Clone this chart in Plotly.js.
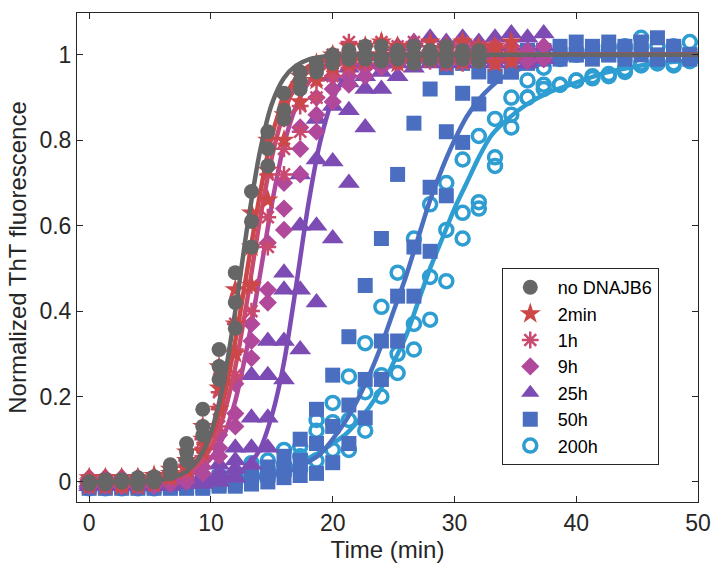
<!DOCTYPE html>
<html>
<head>
<meta charset="utf-8">
<script src="https://cdn.plot.ly/plotly-3.0.1.min.js"></script>
<style>html,body{margin:0;padding:0;background:#fff;}#chart{width:712px;height:566px;}</style>
</head>
<body>
<div id="chart"></div>
<script>
// ---- data ----
const time = [0,1.33,2.67,4,5.33,6.67,8,9.33,10.67,12,13.33,14.67,16,17.33,18.67,20,21.33,22.67,24,25.33,26.67,28,29.33,30.67,32,33.33,34.67,36,37.33,38.67,40,41.33,42.67,44,45.33,46.67,48,49.33];
const seriesNames = ['no DNAJB6','2min','1h','9h','25h','50h','200h'];

const noDnajb6 = [
  [0,0.005,0.005,0.01,0.012,0.04,0.09,0.17,0.31,0.49,0.68,0.82,0.91,0.96,0.98,1.0,1.01,1.02,1.02,1.01,1.02,1.01,1.02,1.01,1.01],
  [0,0,0,0,0.005,0.03,0.07,0.13,0.27,0.42,0.61,0.78,0.87,0.94,0.97,0.99,1.0,1.0,0.99,1.0,1.0,0.99,1.0,1.0,0.99],
  [-0.005,-0.005,0,-0.005,0,0.02,0.05,0.11,0.24,0.36,0.55,0.74,0.85,0.92,0.96,0.98,0.99,0.99,0.985,0.99,0.98,0.99,0.985,0.99,0.985]
];
const twoMin = [
  [0.01,0.01,0.01,0.01,0.015,0.03,0.07,0.13,0.27,0.45,0.63,0.80,0.90,0.95,0.98,1.0,1.02,1.02,1.03,1.02,1.02,1.03,1.02,1.03,1.02,1.02,1.03],
  [0,0,0,0,0.005,0.02,0.05,0.10,0.22,0.37,0.55,0.73,0.86,0.93,0.96,0.98,0.99,1.0,1.0,1.01,1.0,1.0,1.01,1.0,1.0,1.01,1.0],
  [-0.01,-0.01,-0.01,-0.01,-0.005,0.01,0.03,0.07,0.17,0.30,0.46,0.66,0.80,0.89,0.94,0.97,0.98,0.985,0.99,0.98,0.985,0.99,0.98,0.985,0.99,0.98,0.985]
];
const oneHour = [
  [0,0.005,0,0.005,0.01,0.02,0.05,0.10,0.21,0.37,0.55,0.72,0.85,0.93,0.97,1.0,1.03,1.02,1.03,1.02,1.03,1.02,1.02,1.03,1.02,1.02,1.02],
  [0,0,-0.005,0,0.005,0.01,0.04,0.08,0.17,0.31,0.46,0.62,0.78,0.88,0.94,0.98,0.99,1.0,1.0,1.01,1.0,1.0,1.01,1.0,1.01,1.0,1.0],
  [-0.005,-0.005,-0.01,-0.005,0,0.01,0.02,0.06,0.13,0.25,0.40,0.55,0.72,0.82,0.90,0.95,0.97,0.98,0.99,0.985,0.99,0.985,0.99,0.98,0.99,0.985,0.99]
];
const nineHours = [
  [0.01,0.01,0.01,0.01,0.01,0.01,0.02,0.05,0.11,0.23,0.37,0.56,0.70,0.83,0.90,0.95,0.98,0.99,1.0,1.01,1.02,1.01,1.02,1.02,1.01,1.02,1.02,1.01,1.02],
  [0,0,0,0,0,0.005,0.01,0.035,0.08,0.16,0.33,0.45,0.64,0.78,0.86,0.92,0.95,0.97,0.98,0.99,1.0,0.99,1.0,1.0,0.99,1.0,1.0,1.0,0.99],
  [-0.01,-0.01,-0.01,-0.01,-0.01,-0.005,0,0.02,0.06,0.13,0.29,0.42,0.59,0.72,0.82,0.89,0.93,0.95,0.97,0.98,0.985,0.99,0.98,0.985,0.99,0.985,0.99,0.985,0.99]
];
const twentyFiveHours = [
  [0.01,0.01,0.01,0.01,0.01,0.01,0.01,0.015,0.04,0.08,0.25,0.33,0.49,0.72,0.85,0.95,0.97,0.98,1.0,1.02,1.03,1.04,1.03,1.04,1.03,1.04,1.05,1.04,1.05],
  [0,0,0,0,0,0,0,0.01,0.02,0.05,0.15,0.25,0.45,0.60,0.755,0.88,0.935,0.95,0.98,0.99,1.0,1.01,1.0,1.01,1.02,1.01,1.02,1.01,1.02],
  [-0.005,-0.005,-0.005,-0.005,-0.005,-0.005,0,0,0.01,0.03,0.08,0.15,0.33,0.45,0.60,0.75,0.87,0.92,0.96,0.98,0.99,1.0,0.99,1.0,0.99,1.0,0.99,1.0,0.99],
  [-0.01,-0.01,-0.01,-0.01,-0.01,-0.01,-0.005,-0.005,0,0.01,0.04,0.08,0.24,0.31,0.42,0.57,0.70,0.83,0.92,0.95,0.97,0.98,0.99,0.98,0.99,0.98,0.99,0.98,0.99]
];
const fiftyHours = [
  [0,0,0,0,0,0,0.005,0.005,0.01,0.01,0.02,0.035,0.06,0.10,0.17,0.25,0.34,0.46,0.57,0.72,0.84,0.92,0.97,0.98,0.99,1.0,1.0,1.01,1.01,1.02,1.03,1.02,1.03,1.02,1.03,1.04,1.02,1.0],
  [-0.01,-0.01,-0.01,-0.01,-0.01,-0.01,-0.01,-0.01,-0.005,0,0.01,0.015,0.03,0.05,0.09,0.13,0.18,0.24,0.33,0.435,0.55,0.69,0.82,0.91,0.96,0.95,0.96,1.01,1.01,1.0,1.0,1.01,1.0,1.0,1.01,1.0,1.0,1.0],
  [-0.015,-0.015,-0.015,-0.015,-0.015,-0.015,-0.015,-0.015,-0.01,-0.01,-0.005,0,0.01,0.015,0.02,0.045,0.09,0.15,0.24,0.33,0.435,0.54,0.67,0.795,0.885,0.95,0.96,0.98,0.99,0.99,1.0,0.99,1.0,0.99,1.0,0.99,1.0,0.99]
];
const twoHundredHours = [
  [0,0,0,0,0,0.005,0.01,0.01,0.015,0.02,0.044,0.05,0.075,0.083,0.145,0.185,0.247,0.325,0.41,0.49,0.57,0.65,0.70,0.755,0.81,0.85,0.90,0.94,0.97,0.99,1.0,1.01,1.02,1.02,1.04,1.02,1.02,1.03],
  [-0.01,-0.01,-0.01,-0.01,-0.01,-0.005,0,0,0.005,0.01,0.02,0.03,0.04,0.06,0.12,0.14,0.145,0.21,0.25,0.30,0.37,0.48,0.59,0.63,0.655,0.76,0.86,0.90,0.93,0.93,0.94,0.95,0.955,0.967,0.98,0.987,0.98,0.987],
  [-0.015,-0.015,-0.015,-0.015,-0.015,-0.01,-0.01,-0.005,0,0,0.005,0.01,0.02,0.03,0.05,0.075,0.075,0.12,0.20,0.255,0.31,0.38,0.47,0.57,0.64,0.74,0.83,0.90,0.92,0.93,0.94,0.945,0.95,0.96,0.975,0.98,0.975,0.985]
];

// fitted curves
const fitTime = [0,2,4,6,7,8,9,10,11,12,13,14,15,16,17,18,19,20,21,22,23,24,25,26,27,28,29,30,31,32,33,34,36,38,40,42,44,46,48,50];
const fitNoDnajb6 = [0,0.0002,0.001,0.005,0.011,0.025,0.055,0.116,0.228,0.40,0.60,0.77,0.885,0.946,0.975,0.989,0.995,0.998,0.999,1,1,1,1,1,1,1,1,1,1,1,1,1,1,1,1,1,1,1,1,1];
const fitTwoMin = [0,0.0004,0.0016,0.0067,0.0137,0.027,0.054,0.105,0.19,0.33,0.50,0.67,0.81,0.895,0.946,0.973,0.987,0.993,0.997,0.998,0.999,1,1,1,1,1,1,1,1,1,1,1,1,1,1,1,1,1,1,1];
const fitOneHour = [0,0.0003,0.001,0.005,0.010,0.021,0.041,0.081,0.153,0.269,0.43,0.61,0.76,0.865,0.93,0.965,0.983,0.991,0.996,0.998,0.999,1,1,1,1,1,1,1,1,1,1,1,1,1,1,1,1,1,1,1];
const fitNineHours = [0,0.0002,0.001,0.004,0.0074,0.015,0.029,0.056,0.105,0.19,0.32,0.48,0.65,0.79,0.88,0.935,0.966,0.983,0.992,0.996,0.998,0.999,1,1,1,1,1,1,1,1,1,1,1,1,1,1,1,1,1,1];
const fitTwentyFiveHours = [0,0,0,0.0002,0.0004,0.0008,0.0018,0.004,0.008,0.018,0.038,0.075,0.155,0.28,0.46,0.65,0.80,0.896,0.947,0.975,0.988,0.994,0.997,0.999,1,1,1,1,1,1,1,1,1,1,1,1,1,1,1,1];
const fitFiftyHours = [0.0001,0.0001,0.0003,0.0006,0.0009,0.0012,0.0018,0.0025,0.0035,0.005,0.0075,0.011,0.016,0.023,0.032,0.047,0.066,0.10,0.14,0.19,0.25,0.32,0.40,0.48,0.57,0.66,0.735,0.80,0.855,0.895,0.925,0.948,0.973,0.987,0.994,0.997,0.999,1,1,1];
const fitTwoHundredHours = [0.0001,0.0002,0.0005,0.001,0.0015,0.002,0.003,0.004,0.006,0.009,0.012,0.016,0.022,0.03,0.04,0.055,0.07,0.09,0.11,0.14,0.175,0.22,0.28,0.34,0.42,0.50,0.57,0.64,0.70,0.76,0.81,0.84,0.885,0.915,0.935,0.955,0.968,0.978,0.984,0.988];

const markerData = [noDnajb6, twoMin, oneHour, nineHours, twentyFiveHours, fiftyHours, twoHundredHours];
const fitData = [fitNoDnajb6, fitTwoMin, fitOneHour, fitNineHours, fitTwentyFiveHours, fitFiftyHours, fitTwoHundredHours];

// ---- styles ----
const colors = ['#666666','#cc4747','#c9496f','#b0489c','#7c4bb4','#4a6fc0','#2e9dd1'];
const symbols = ['circle','star','asterisk-open','diamond','triangle-up','square','circle-open'];
const sizes = [15,16,14,14,19,15,13];
const lineWidths = [0,0,2.5,0,0,0,3.5];

const traces = [];
for (let i = seriesNames.length - 1; i >= 0; i--) {
  const xs = [], ys = [];
  markerData[i].forEach(rep => {
    rep.forEach((v, k) => { if (v !== null) { xs.push(time[k]); ys.push(v); } });
  });
  traces.push({
    type: 'scatter', mode: 'markers', name: seriesNames[i], x: xs, y: ys,
    marker: { symbol: symbols[i], size: sizes[i], color: colors[i],
              line: { color: colors[i], width: lineWidths[i] } },
    showlegend: true
  });
  traces.push({
    type: 'scatter', mode: 'lines', x: fitTime, y: fitData[i],
    line: { color: colors[i], width: 4.5, shape: 'spline', smoothing: 0.8 },
    showlegend: false, hoverinfo: 'skip'
  });
}

const font = 'Liberation Sans, Arial, Helvetica, sans-serif';
const axisCol = '#262626';
const layout = {
  width: 712, height: 566,
  margin: { l: 77, r: 14, t: 13, b: 64 },
  paper_bgcolor: '#ffffff', plot_bgcolor: '#ffffff',
  font: { family: font, color: axisCol, size: 20 },
  xaxis: {
    range: [-1, 50], tickvals: [0,10,20,30,40,50], ticks: 'inside', ticklen: 6,
    tickcolor: axisCol, showline: true, linecolor: axisCol, linewidth: 1, mirror: 'ticks',
    showgrid: false, zeroline: false, tickfont: { size: 23, family: font, color: axisCol },
    title: { text: 'Time (min)', font: { size: 24, family: font, color: axisCol }, standoff: 5 }
  },
  yaxis: {
    range: [-0.047, 1.098], tickvals: [0,0.2,0.4,0.6,0.8,1], ticktext: ['0','0.2','0.4','0.6','0.8','1'],
    ticks: 'inside', ticklen: 6, tickcolor: axisCol, showline: true, linecolor: axisCol, linewidth: 1,
    mirror: 'ticks', showgrid: false, zeroline: false, tickfont: { size: 23, family: font, color: axisCol },
    title: { text: 'Normalized ThT fluorescence', font: { size: 24, family: font, color: axisCol }, standoff: 6 }
  },
  legend: {
    x: 0.684, y: 0.4785, xanchor: 'left', yanchor: 'top', traceorder: 'reversed',
    bordercolor: axisCol, borderwidth: 1, bgcolor: '#ffffff', itemwidth: 45,
    font: { size: 18, family: font, color: '#000000' }, tracegroupgap: 0
  },
  showlegend: true
};

Plotly.newPlot('chart', traces, layout, { staticPlot: true, displayModeBar: false });
</script>
</body>
</html>
